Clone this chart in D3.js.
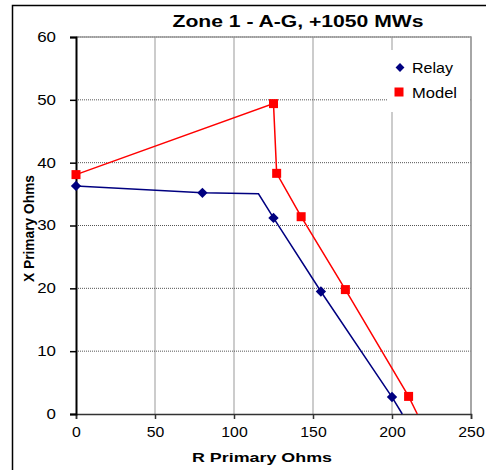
<!DOCTYPE html>
<html>
<head>
<meta charset="utf-8">
<script src="https://cdn.jsdelivr.net/npm/d3@7"></script>
<style>
  body { margin: 0; background: #fff; }
  svg { display: block; font-family: "Liberation Sans", Arial, sans-serif; }
</style>
</head>
<body>
<div id="chart"></div>
<script>
// relay points (markers) and the line, which runs on past the markers
const relayR = [0, 80, 125, 155, 200];
const relayX = [36.3, 35.2, 31.2, 19.5, 2.7];
const relayLineR = [0, 80, 115.5, 125, 155, 200, 206.5];
const relayLineX = [36.3, 35.2, 35.05, 31.2, 19.5, 2.7, 0];

const modelR = [0, 125, 127, 142.5, 170.5, 210.5];
const modelX = [38.1, 49.4, 38.3, 31.4, 19.8, 2.8];
const modelLineR = [0, 125, 127, 142.5, 170.5, 210.5, 216];
const modelLineX = [38.1, 49.4, 38.3, 31.4, 19.8, 2.8, 0];

const xTicks = [0, 50, 100, 150, 200, 250];
const yTicks = [0, 10, 20, 30, 40, 50, 60];

const width = 486, height = 470;
const margin = { top: 37, right: 15, bottom: 56, left: 76 };

const svg = d3.select('#chart')
    .append('svg')
    .attr('width', width)
    .attr('height', height);

// the original picture is stretched sideways, so text gets a fixed length
function stretch(sel, len) {
    sel.attr('textLength', len).attr('lengthAdjust', 'spacingAndGlyphs');
}

// outer chart border
svg.append('path')
    .attr('d', 'M12.5,470 V5.5 H486')
    .attr('fill', 'none')
    .attr('stroke', '#000')
    .attr('stroke-width', 1.5);

const x = d3.scaleLinear().domain([0, 250]).range([margin.left, width - margin.right]);
const y = d3.scaleLinear().domain([0, 60]).range([height - margin.bottom, margin.top]);

// grid
svg.append('g')
    .selectAll('line')
    .data(xTicks.slice(1))
    .enter()
        .append('line')
        .attr('x1', d => x(d)).attr('x2', d => x(d))
        .attr('y1', y(60)).attr('y2', y(0))
        .attr('stroke', '#999')
        .attr('stroke-width', 1);

svg.append('g')
    .selectAll('line')
    .data(yTicks.slice(1))
    .enter()
        .append('line')
        .attr('x1', x(0)).attr('x2', x(250))
        .attr('y1', d => y(d)).attr('y2', d => y(d))
        .attr('stroke', '#555')
        .attr('stroke-width', 1)
        .attr('stroke-dasharray', '1,1');

// plot frame top / right
svg.append('path')
    .attr('d', `M${x(0)},${y(60)} H${x(250)} V${y(0)}`)
    .attr('fill', 'none')
    .attr('stroke', '#999')
    .attr('stroke-width', 1.5);

// axes
const xAxis = svg.append('g')
    .attr('transform', `translate(0,${y(0)})`)
    .call(d3.axisBottom(x).tickValues(xTicks).tickSize(5).tickPadding(8));
xAxis.select('.domain').attr('stroke', '#333').attr('stroke-width', 1.5);
xAxis.selectAll('.tick line').attr('stroke', '#333').attr('stroke-width', 1.5);
xAxis.selectAll('text').attr('font-size', 14).attr('fill', '#000')
    .attr('font-family', '"Liberation Sans", Arial, sans-serif')
    .each(function (d) { stretch(d3.select(this), String(d).length * 8.8); });

const yAxis = svg.append('g')
    .attr('transform', `translate(${x(0)},0)`)
    .call(d3.axisLeft(y).tickValues(yTicks).tickSize(6).tickPadding(14));
yAxis.select('.domain').attr('stroke', '#000').attr('stroke-width', 2);
yAxis.selectAll('.tick line').attr('stroke', '#000').attr('stroke-width', 1.5);
yAxis.selectAll('text').attr('font-size', 14).attr('fill', '#000')
    .attr('font-family', '"Liberation Sans", Arial, sans-serif')
    .each(function (d) { stretch(d3.select(this), String(d).length * 9.4); });

// titles
svg.append('text')
    .attr('x', 298).attr('y', 27)
    .attr('text-anchor', 'middle')
    .attr('font-size', 16).attr('font-weight', 'bold')
    .text('Zone 1 - A-G, +1050 MWs')
    .call(stretch, 251);

svg.append('text')
    .attr('x', 262).attr('y', 462)
    .attr('text-anchor', 'middle')
    .attr('font-size', 13).attr('font-weight', 'bold')
    .text('R Primary Ohms')
    .call(stretch, 140);

svg.append('text')
    .attr('transform', 'translate(33.5,228.5) rotate(-90) scale(1,1.35)')
    .attr('text-anchor', 'middle')
    .attr('font-size', 10.5).attr('font-weight', 'bold')
    .text('X Primary Ohms')
    .call(stretch, 107);

const line = d3.line().x(d => x(d[0])).y(d => y(d[1]));

// model series
svg.append('path')
    .datum(modelLineR.map((r, i) => [r, modelLineX[i]]))
    .attr('d', line)
    .attr('fill', 'none')
    .attr('stroke', '#ff0000')
    .attr('stroke-width', 1.5);

svg.append('g')
    .selectAll('rect')
    .data(modelR.map((r, i) => [r, modelX[i]]))
    .enter()
        .append('rect')
        .attr('x', d => x(d[0]) - 4.5)
        .attr('y', d => y(d[1]) - 4.5)
        .attr('width', 9).attr('height', 9)
        .attr('fill', '#ff0000');

// relay series
svg.append('path')
    .datum(relayLineR.map((r, i) => [r, relayLineX[i]]))
    .attr('d', line)
    .attr('fill', 'none')
    .attr('stroke', '#000080')
    .attr('stroke-width', 1.5);

const diamond = d3.symbol().type(d3.symbolDiamond2).size(68);

svg.append('g')
    .selectAll('path')
    .data(relayR.map((r, i) => [r, relayX[i]]))
    .enter()
        .append('path')
        .attr('d', diamond)
        .attr('transform', d => `translate(${x(d[0])},${y(d[1])})`)
        .attr('fill', '#000080');

// legend
const legend = svg.append('g');
legend.append('rect')
    .attr('x', 388).attr('y', 50).attr('width', 82).attr('height', 62)
    .attr('fill', '#fff');
legend.append('path')
    .attr('d', d3.symbol().type(d3.symbolDiamond2).size(50))
    .attr('transform', 'translate(400,67.5)')
    .attr('fill', '#000080');
legend.append('text')
    .attr('x', 412).attr('y', 72.5)
    .attr('font-size', 14.5)
    .text('Relay')
    .call(stretch, 41);
legend.append('rect')
    .attr('x', 394.5).attr('y', 87.5).attr('width', 9).attr('height', 9)
    .attr('fill', '#ff0000');
legend.append('text')
    .attr('x', 412).attr('y', 97.5)
    .attr('font-size', 14.5)
    .text('Model')
    .call(stretch, 45);
</script>
</body>
</html>
